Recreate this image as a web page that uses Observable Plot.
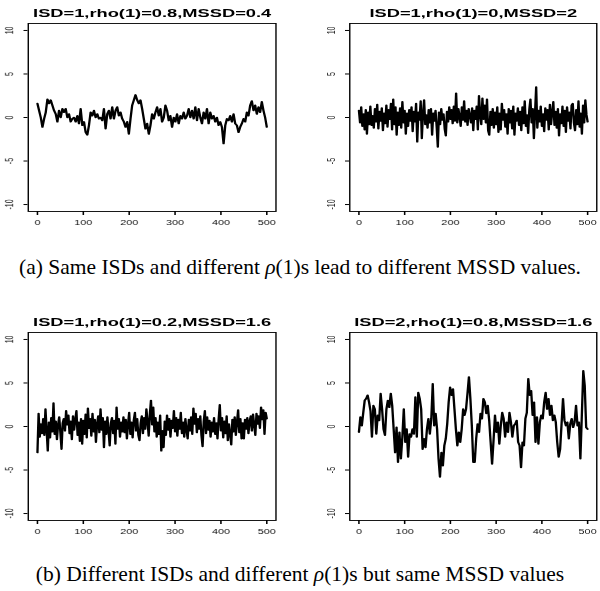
<!DOCTYPE html>
<html><head><meta charset="utf-8">
<script src="https://cdn.jsdelivr.net/npm/d3@7"></script>
<script src="https://cdn.jsdelivr.net/npm/@observablehq/plot@0.6"></script>
<style>
html,body{margin:0;padding:0;background:#fff;}
#wrap{position:relative;width:600px;height:591px;overflow:hidden;background:#fff;}
.panel{position:absolute;width:300px;height:240px;}
.cap{position:absolute;left:0;width:600px;text-align:center;font-family:"Liberation Serif","Times New Roman",Times,serif;font-size:21.5px;line-height:24px;color:#000;white-space:nowrap;}
</style></head><body>
<div id="wrap">
 <div class="panel" id="p1" style="left:0;top:0"></div>
 <div class="panel" id="p2" style="left:300px;top:0"></div>
 <div class="panel" id="p3" style="left:0;top:300px"></div>
 <div class="panel" id="p4" style="left:300px;top:300px"></div>
 <div class="cap" style="top:255px">(a) Same ISDs and different <i>ρ</i>(1)s lead to different MSSD values.</div>
 <div class="cap" style="top:562px">(b) Different ISDs and different <i>ρ</i>(1)s but same MSSD values</div>
</div>
<script>
const titles = [
  "ISD=1,rho(1)=0.8,MSSD=0.4",
  "ISD=1,rho(1)=0,MSSD=2",
  "ISD=1,rho(1)=0.2,MSSD=1.6",
  "ISD=2,rho(1)=0.8,MSSD=1.6"
];
const xTicks = [0, 100, 200, 300, 400, 500];
const yTicks = [-10, -5, 0, 5, 10];
const xDomain = [-20, 520];
const yDomain = [-10.8, 10.8];

// series (time index 0..500, evenly spaced samples)
const series1 = [
 1.6, 0.8, 0, -1.1, -0.15, 0.6, 2.1, 1.6, 2.0, 1.4,
 0.8, 0.4, -0.5, 0.8, 0, 1.0, 0.6, 1.0, 0, 0.4,
 -0.5, -0.15, 0, -0.5, 0.2, -0.7, 1.0, -0.9, -0.5, -1.7,
 -2.0, -0.9, 0.6, 0.2, 0.8, 0, 0.4, -0.15, 0, -0.35,
 1.0, -1.3, 0.4, 0.8, -0.15, 1.2, -0.15, 0.8, 1.2, 0.2,
 0.6, -0.15, -0.5, -1.1, -0.5, -1.9, -0.15, 1.4, 2.0, 2.6,
 2.0, 1.6, 2.0, 1.0, -0.15, -1.3, -0.7, -1.9, -0.9, 0.4,
 -0.15, 0.6, 1.2, 0.2, 1.0, -0.5, 0, 1.4, 0.8, -0.35,
 0.2, -1.1, 0, -0.5, 0.4, -0.7, 0.2, -0.15, 0.6, -0.15,
 0.2, 1.0, 0, 0.8, -0.15, 1.2, -0.35, 1.0, 0, -0.7,
 0.6, -0.15, 1.0, -0.7, 0.6, -0.15, 0.2, -0.5, 0, -0.9,
 -0.5, -1.1, -3.0, -0.9, -0.15, -0.35, 0.2, -0.5, 0.4, -0.7,
 -0.9, -1.7, -1.1, -0.7, -0.15, -0.5, 0.6, 0.2, 1.4, 1.9,
 0.8, 1.4, 0.4, 1.2, 0.6, 1.8, 0.8, 0, -1.1
];
const series2 = [
 0.8, -0.6, 1.2, -1.0, 0.4, -1.4, 0.9, -1.9, 0.6, -0.8,
 1.3, -0.9, 0.2, -1.2, 1.0, -0.5, 1.5, -1.3, 0.7, -0.4,
 1.1, -1.5, 0.5, -0.7, 1.4, -1.1, 0.9, -0.2, 1.6, -1.4,
 2.1, -0.8, 1.2, -2.0, 0.6, -0.9, 1.1, -1.2, 1.8, -0.6,
 0.8, -1.9, 0.5, -1.0, 0.9, -0.4, 1.2, -1.6, 0.7, -0.5,
 1.6, -2.8, 0.6, -0.3, 1.9, -2.4, 0.4, 2.0, -0.8, 0.3,
 -1.2, 0.9, -0.6, 1.0, -2.0, 0.5, -0.4, 0.8, -1.1, -3.4,
 0.6, -0.8, 1.0, -0.3, 0.4, -1.3, -2.1, 0.7, -0.5, 1.2,
 -0.2, 0.9, -0.7, 1.3, -0.4, 2.8, -0.6, 1.0, 0.1, -1.0,
 1.2, -0.3, 1.9, -0.5, 0.8, -0.9, 1.0, 0.2, -0.6, 1.1,
 -1.5, 0.8, -0.2, 1.3, -1.4, 2.5, 0.3, -0.8, 2.2, -0.2,
 1.4, -0.6, 2.1, -1.5, -2.0, 0.7, -0.9, 1.0, -1.2, 0.6,
 -0.8, 1.2, -1.7, 0.5, -1.4, 1.6, -0.3, 0.9, -1.1, 0.4,
 -1.9, 1.0, -0.6, 0.8, -1.3, 1.3, -2.0, 0.5, -0.4, 1.1,
 -0.9, 0.7, -1.5, 1.2, -0.7, 1.9, -1.0, 0.3, -1.8, 0.9,
 2.1, -0.6, 1.0, -2.4, 0.5, 3.5, -1.2, 0.8, -0.5, 1.3,
 -1.0, 0.4, -1.6, 1.1, -0.3, 0.9, -1.4, 1.5, -0.8, 0.6,
 1.8, -0.9, 0.7, -1.2, 1.0, -2.1, 0.4, -0.7, 1.3, -1.0,
 0.8, -1.7, 1.2, -0.4, 0.6, -1.3, 1.4, 1.6, -0.6, -1.5,
 0.9, -0.8, 1.9, -1.1, 0.5, -1.9, 1.4, -0.6, 2.0, 0.3, -0.5
];
const series3 = [
 -3.0, 1.5, -1.2, 0.3, -0.8, 0.9, -1.0, 2.0, -0.4, -2.8,
 0.5, -1.3, 1.0, -0.6, 2.7, -0.9, 0.6, -1.5, 0.2, 1.1,
 -0.7, -2.6, 0.4, 0.9, -0.5, 1.8, 0.2, 1.3, -0.8, 0.6,
 -1.5, 1.2, -0.4, 0.8, 1.8, -1.0, 0.5, -1.7, 0.9, -2.0,
 0.7, -0.9, 1.4, -1.3, 2.1, -0.2, 0.9, -1.1, 1.5, -0.6,
 0.8, -1.8, 0.3, 1.2, -0.7, 2.0, -0.4, 1.0, -2.4, 0.6,
 -0.9, 1.1, -0.5, -2.2, 0.4, 1.0, -0.8, 0.7, -2.0, 2.2,
 -0.3, 0.9, -1.2, 0.5, -0.6, 1.1, -0.7, 0.8, -1.4, 0.3,
 1.6, -0.9, 0.5, -1.3, 0.7, 1.6, -0.5, 0.9, -1.0, -1.6,
 0.4, 1.2, -0.8, 1.0, -0.3, 2.0, 0.6, -1.1, 1.4, 3.0,
 0.2, 2.2, -0.6, 1.0, -1.2, 0.5, -0.9, 1.3, -2.8, -0.5,
 -2.4, 0.6, -1.0, 1.3, -0.4, 0.9, -1.2, 0.7, -0.2, 1.8,
 -0.6, 1.0, -1.1, 0.8, -0.3, 1.6, -0.8, 0.5, -1.2, 0.9,
 -0.4, -1.4, 0.8, -0.5, 1.1, -0.9, 2.1, 0.3, 1.5, -0.7,
 0.9, -0.3, 1.2, -1.0, -2.3, 0.6, 1.8, -0.8, 1.1, -0.4,
 0.7, -1.2, 0.5, -0.6, 1.0, -0.9, 0.4, -1.4, 0.8, 2.5,
 -0.5, 1.0, -1.3, 0.6, -0.8, 1.2, -1.6, 0.3, -0.9, -2.1,
 0.8, -0.6, 1.1, -1.0, 0.5, 1.9, -0.7, 0.9, -1.4, 0.4,
 -1.4, 0.8, -0.3, 1.0, -0.8, 0.6, 1.2, -0.5, 1.4, 0.2,
 -1.0, 1.5, 0.3, 1.2, -0.2, 2.2, 0.8, 1.9, -0.9, 1.6, 0.9
];
const series4 = [
 -0.65, 1.1, 0.1, 1.6, 3.0, 3.2, 3.6, 2.8, 1.8, -1.2,
 2.4, 2.0, -0.85, 1.3, 0.7, 3.8, 2.0, -0.3, -1.0, 2.0,
 3.0, 2.2, 3.8, 2.4, -0.3, -3.0, -0.1, -4.1, -0.65, -3.7,
 -1.2, 2.0, -1.8, -0.3, -3.5, -0.85, -1.2, -0.3, -0.85, 3.4,
 -1.2, 3.9, 3.2, 2.0, -2.6, -1.4, -2.4, -0.3, 0.9, -0.85,
 0.9, 4.9, 0.1, 1.5, -0.3, -3.7, -5.8, -3.0, -4.5, -2.2,
 -1.4, 0.3, 2.8, 4.5, 3.6, 4.3, 2.0, -0.3, -2.2, -0.65,
 -1.8, -0.3, 2.0, 1.3, 2.0, 3.8, 5.7, 3.2, 0.1, -4.1,
 -4.1, -1.4, 0.3, -0.65, 1.5, 0.9, 3.2, 2.8, 1.5, 2.4,
 0.7, -1.8, -4.3, -1.6, 1.3, -0.65, 0.5, -2.0, 0.1, 1.6,
 0.9, -1.2, 0.5, -0.65, 1.6, 0.5, -1.2, 0.1, 0.3, 0.7,
 -1.8, -2.2, -4.7, -1.8, -2.2, 0.9, 1.6, 5.5, 3.6, 4.1,
 1.3, 2.8, -1.8, 1.1, -2.0, 0.5, 1.3, 0.9, 2.8, 3.9,
 2.0, 3.2, 1.3, 2.4, 0.7, 1.3, 0.5, -1.8, -3.5, -2.6,
 0.3, 3.2, 0.7, 0.1, 0.5, -1.4, 0.3, 0.9, -0.1, 0.5,
 2.4, 0.1, 0.5, -3.7, 1.3, 6.4, 4.7, -0.1, -0.3
];

const S = 1.55; // horizontal stretch of the original panels

function draw(id, title, values, box) {
  const Wu = 300 / S;
  const step = 500 / (values.length - 1);
  const data = values.map((v, i) => ({t: i * step, v}));
  const svg = Plot.plot({
    width: Wu, height: 240,
    marginLeft: box.ml / S, marginRight: box.mr / S, marginTop: box.mt, marginBottom: box.mb,
    x: {domain: xDomain, label: null},
    y: {domain: yDomain, label: null},
    style: {background: "white", color: "black", fontFamily: "'Liberation Sans', Arial, Helvetica, sans-serif", fontSize: "7px", overflow: "visible"},
    marks: [
      Plot.frame({stroke: "black", strokeWidth: 0.9}),
      Plot.axisX(xTicks, {tickSize: 4, tickPadding: 4.5, fontSize: 7, stroke: "black", fill: "#222"}),
      Plot.axisY(yTicks, {tickSize: 4 / S, tickFormat: () => "", stroke: "black"}),
      Plot.text(yTicks, {y: d => d, text: d => String(d), frameAnchor: "left", rotate: -90, dx: -9.7, textAnchor: "middle", lineAnchor: "bottom", fontSize: 7, fill: "#222"}),
      Plot.line(data, {x: "t", y: "v", stroke: "black", strokeWidth: 1.5}),
      Plot.text([title], {frameAnchor: "top", dy: -15, fontSize: 11.8, fontWeight: "bold", fill: "black"})
    ]
  });
  svg.setAttribute("preserveAspectRatio", "none");
  svg.style.width = "300px";
  svg.style.height = "240px";
  svg.style.maxWidth = "none";
  svg.style.display = "block";
  svg.style.filter = "grayscale(1)";
  document.getElementById(id).appendChild(svg);
}

const topBox = {ml: 27.5, mr: 24.8, mt: 23, mb: 29};
const topBoxR = {ml: 49, mr: 4, mt: 23, mb: 29};
const botBox = {ml: 27.5, mr: 24.8, mt: 32, mb: 20};
const botBoxR = {ml: 49, mr: 4, mt: 32, mb: 20};
draw("p1", titles[0], series1, topBox);
draw("p2", titles[1], series2, topBoxR);
draw("p3", titles[2], series3, botBox);
draw("p4", titles[3], series4, botBoxR);
</script>
</body></html>
